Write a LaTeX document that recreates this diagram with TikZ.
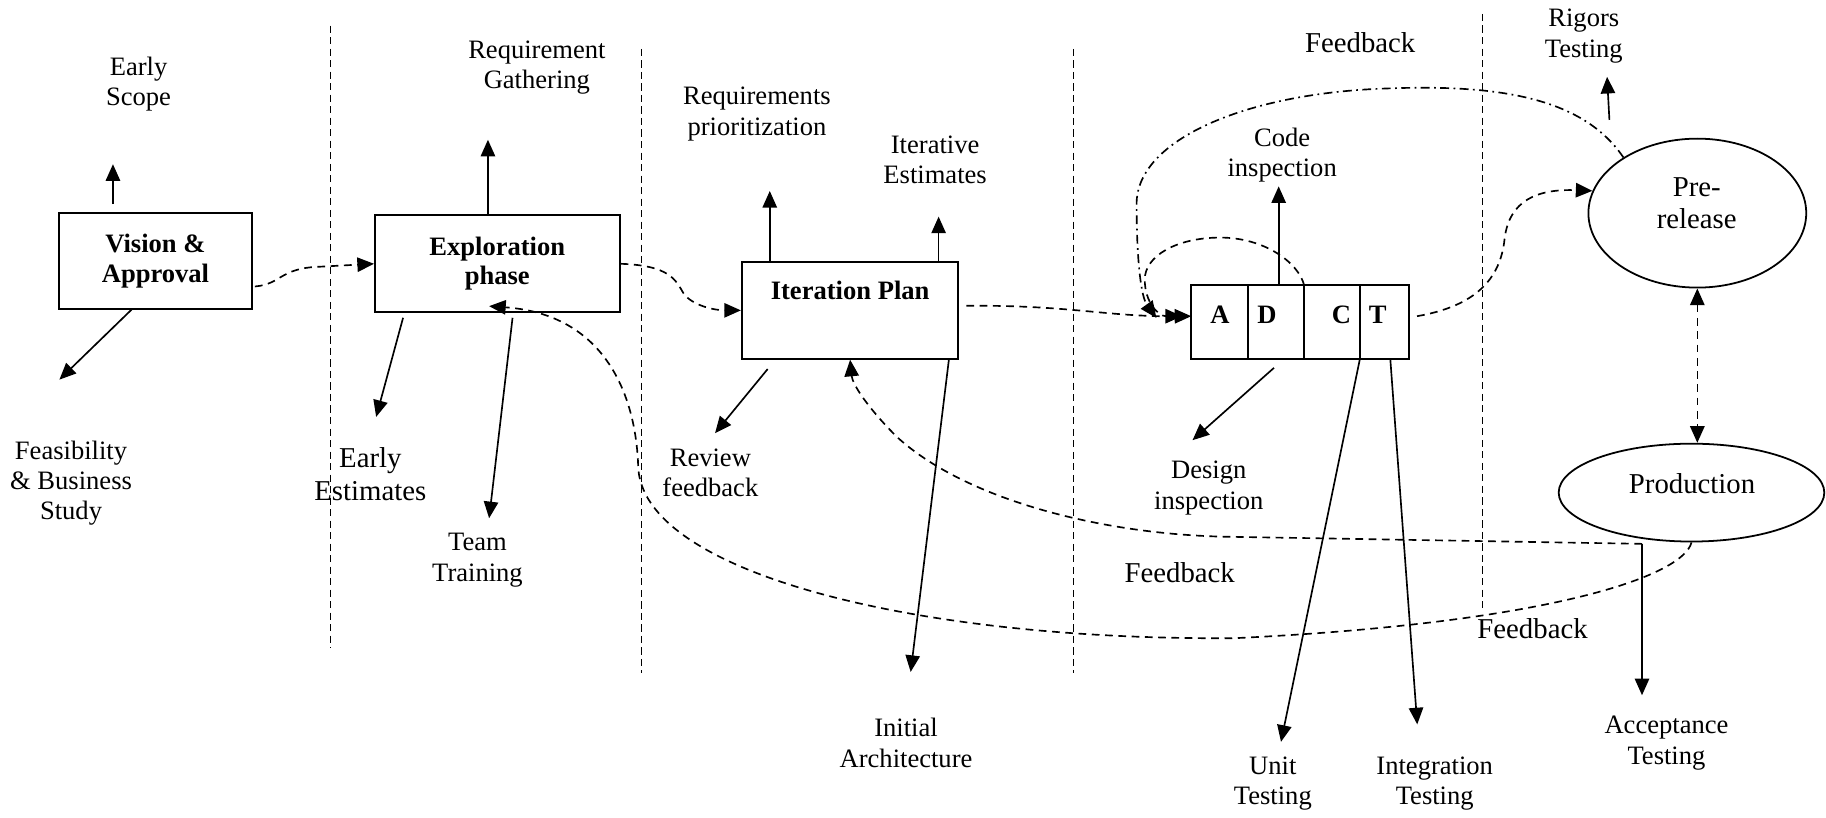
\documentclass[tikz,border=0pt]{standalone}
\usepackage{fontspec}
\setmainfont{Liberation Serif}
\usetikzlibrary{arrows.meta, positioning, shapes.geometric, calc}

\tikzset{
  headed/.style={-{Triangle[length=7.5pt,width=6.5pt]}},
  flow/.style={headed, line width=0.75pt},
  feedback/.style={headed, line width=0.75pt, dash pattern=on 3.5pt off 2.5pt},
  twoway/.style={feedback, {Triangle[length=7.5pt,width=6.5pt]}-{Triangle[length=7.5pt,width=6.5pt]}},
  loopback/.style={headed, line width=0.75pt, dash pattern=on 4pt off 2pt on 0.8pt off 2pt},
  divider/.style={line width=0.6pt, dash pattern=on 3.2pt off 2pt},
  stage/.style={draw, line width=0.9pt, align=center, inner sep=0pt,
    font=\fontsize{12}{13.4}\selectfont\bfseries},
  cell/.style={draw, line width=0.9pt, outer sep=0pt, inner ysep=0pt, inner xsep=4pt,
    text height=17pt, text depth=16pt, font=\fontsize{12}{13.4}\selectfont\bfseries},
  oval/.style={draw, ellipse, line width=0.8pt, inner sep=0pt},
  txt/.style={align=center, inner sep=0pt, font=\fontsize{12}{13.7}\selectfont},
  bigtxt/.style={align=center, inner sep=0pt, font=\fontsize{13}{14.7}\selectfont}
}

\begin{document}
\begin{tikzpicture}[x=1.849cm, y=-1.849cm]
    \useasboundingbox (0, 0) rectangle (15.68, 7.02);
    % Phase dividers
    \draw [divider] (2.84, 0.22) -- (2.84, 5.56);
    \draw [divider] (5.51, 0.42) -- (5.51, 5.78);
    \draw [divider] (9.22, 0.42) -- (9.22, 5.78);
    \draw [divider] (12.73, 0.12) -- (12.73, 5.23);
    % Stages
    \node [stage, minimum width=86.8pt, minimum height=43.1pt] (vision) at (1.335, 2.24) {Vision \&\\Approval};
    \node [stage, minimum width=110.5pt, minimum height=43.7pt] (explore) at (4.27, 2.265) {Exploration\\phase};
    \node [stage, minimum width=97.8pt, minimum height=43.7pt] (iter) at (7.30, 2.665) {};
    \node [font=\fontsize{12}{13.4}\selectfont\bfseries, inner sep=0pt] (itertitle) at (7.30, 2.49) {Iteration Plan};
    % A D C T box
    \node [cell, inner xsep=0pt, text width=25.8pt, align=center] (cellA) at (10.475, 2.765) {A};
    \node [cell, text width=17.2pt, align=left, right=0pt of cellA] (cellD) {D};
    \node [cell, text width=17.2pt, align=right, right=0pt of cellD] (cellC) {C};
    \node [cell, text width=14.1pt, align=left, right=0pt of cellC] (cellT) {T};
    % Release stages
    \node [oval, minimum width=98.4pt, minimum height=67.3pt] (pre) at (14.575, 1.83) {};
    \node [bigtxt] (pretext) at (14.57, 1.745) {Pre-\\release};
    \node [oval, minimum width=120pt, minimum height=44.2pt] (prod) at (14.525, 4.23) {};
    \node [bigtxt] (prodtext) at (14.53, 4.15) {Production};
    % Labels
    \node [txt] (scope) at (1.19, 0.72) {Early\\Scope};
    \node [txt] (feas) at (0.61, 4.15) {Feasibility\\\& Business\\Study};
    \node [txt] (gather) at (4.61, 0.58) {Requirement\\Gathering};
    \node [bigtxt] (earlyest) at (3.18, 4.07) {Early\\Estimates};
    \node [txt] (team) at (4.10, 4.81) {Team\\Training};
    \node [txt] (prio) at (6.50, 0.98) {Requirements\\prioritization};
    \node [txt] (iterest) at (8.03, 1.37) {Iterative\\Estimates};
    \node [txt] (review) at (6.10, 4.06) {Review\\feedback};
    \node [txt] (arch) at (7.78, 6.38) {Initial\\Architecture};
    \node [txt] (code) at (11.01, 1.33) {Code\\inspection};
    \node [txt] (design) at (10.38, 4.19) {Design\\inspection};
    \node [txt] (unit) at (10.93, 6.73) {Unit\\Testing};
    \node [txt] (integ) at (12.32, 6.73) {Integration\\Testing};
    \node [txt] (accept) at (14.31, 6.38) {Acceptance\\Testing};
    \node [txt] (rigors) at (13.60, 0.31) {Rigors\\Testing};
    \node [bigtxt] (fbtop) at (11.68, 0.37) {Feedback};
    \node [bigtxt] (fbmid) at (10.13, 4.92) {Feedback};
    \node [bigtxt] (fbright) at (13.16, 5.40) {Feedback};
    % Arrow ends
    \coordinate (scopetip) at (0.97, 1.41);
    \coordinate (feastip) at (0.51, 3.26);
    \coordinate (gathtip) at (4.19, 1.20);
    \coordinate (esttip) at (3.23, 3.58);
    \coordinate (teamtip) at (4.20, 4.45);
    \coordinate (priotip) at (6.61, 1.64);
    \coordinate (itesttip) at (8.06, 1.86);
    \coordinate (reviewtip) at (6.14, 3.72);
    \coordinate (archtip) at (7.82, 5.77);
    \coordinate (codetip) at (10.98, 1.60);
    \coordinate (designtip) at (10.24, 3.78);
    \coordinate (unittip) at (11.00, 6.37);
    \coordinate (integtip) at (12.17, 6.22);
    \coordinate (rigbase) at (13.82, 1.03);
    \coordinate (rigtip) at (13.80, 0.66);
    \coordinate (acc) at (14.10, 4.67);
    \coordinate (acctip) at (14.10, 5.97);
    \coordinate (fbtip) at (9.93, 2.73);
    % Outputs of each stage
    \draw [flow] ($(vision.north -| scopetip)+(0, -0.07)$) -- (scopetip);
    \draw [flow] ($(vision.south)+(-0.205, 0)$) -- (feastip);
    \draw [flow] (explore.north -| gathtip) -- (gathtip);
    \draw [flow] ($(explore.south west)+(0.25, 0.04)$) -- (esttip);
    \draw [flow] ($(explore.south west)+(1.19, 0.04)$) -- (teamtip);
    \draw [flow] (iter.north -| priotip) -- (priotip);
    \draw [flow] (iter.north -| itesttip) -- (itesttip);
    \draw [flow] ($(iter.south west)+(0.23, 0.08)$) -- (reviewtip);
    \draw [flow] ($(iter.south east)+(-0.09, 0)$) -- (archtip);
    \draw [flow] (cellD.north -| codetip) -- (codetip);
    \draw [flow] ($(cellD.south)+(-0.02, 0.08)$) -- (designtip);
    \draw [flow] (cellC.south east) -- (unittip);
    \draw [flow] ($(cellT.south)+(0.05, 0)$) -- (integtip);
    \draw [flow] (rigbase) -- (rigtip);
    \draw [flow] (acc) -- (acctip);
    % Flow between stages
    \draw [feedback] ($(vision.east)+(0.02, 0.22)$) .. controls (2.42, 2.44) and (2.40, 2.30) .. (2.75, 2.29) -- (explore.west);
    \draw [feedback] (explore.east) .. controls (5.75, 2.28) and (5.80, 2.40) .. (5.87, 2.52) .. controls (5.95, 2.63) and (6.15, 2.665) .. (iter.west);
    \draw [feedback] ($(iter.east)+(0.06, -0.04)$) .. controls (9.2, 2.62) and (9.5, 2.72) .. ($(cellA.west)+(0, -0.05)$);
    \draw [feedback] (cellD.north east) .. controls (11.15, 2.25) and (10.85, 2.04) .. (10.48, 2.04) .. controls (10.1, 2.04) and (9.83, 2.2) .. (9.83, 2.40) .. controls (9.83, 2.6) and (9.95, 2.715) .. ($(cellA.west)+(-0.08, -0.05)$);
    \draw [feedback] ($(cellT.east)+(0.07, -0.05)$) .. controls (12.6, 2.64) and (12.88, 2.45) .. (12.92, 2.05) .. controls (12.96, 1.72) and (13.2, 1.62) .. (pre.168);
    \draw [twoway] (pre.south) -- (pre.south |- prod.north);
    % Feedback loops
    \draw [loopback] (pre.143) .. controls (13.6, 0.85) and (12.9, 0.72) .. (11.9, 0.76) .. controls (10.7, 0.80) and (9.76, 1.2) .. (9.76, 1.75) .. controls (9.76, 2.25) and (9.8, 2.55) .. (fbtip);
    \draw [feedback] (acc) -- (10.6, 4.61) .. controls (9.5, 4.60) and (8.3, 4.3) .. (7.7, 3.75) .. controls (7.45, 3.5) and (7.32, 3.3) .. (iter.south);
    \draw [feedback] (prod.south) .. controls (14.45, 4.95) and (13.3, 5.35) .. (10.6, 5.48) .. controls (7.8, 5.5) and (5.5, 4.9) .. (5.48, 4.0) .. controls (5.46, 3.4) and (5.2, 2.7) .. ($(explore.south)+(-0.07, -0.06)$);
\end{tikzpicture}
\end{document}
